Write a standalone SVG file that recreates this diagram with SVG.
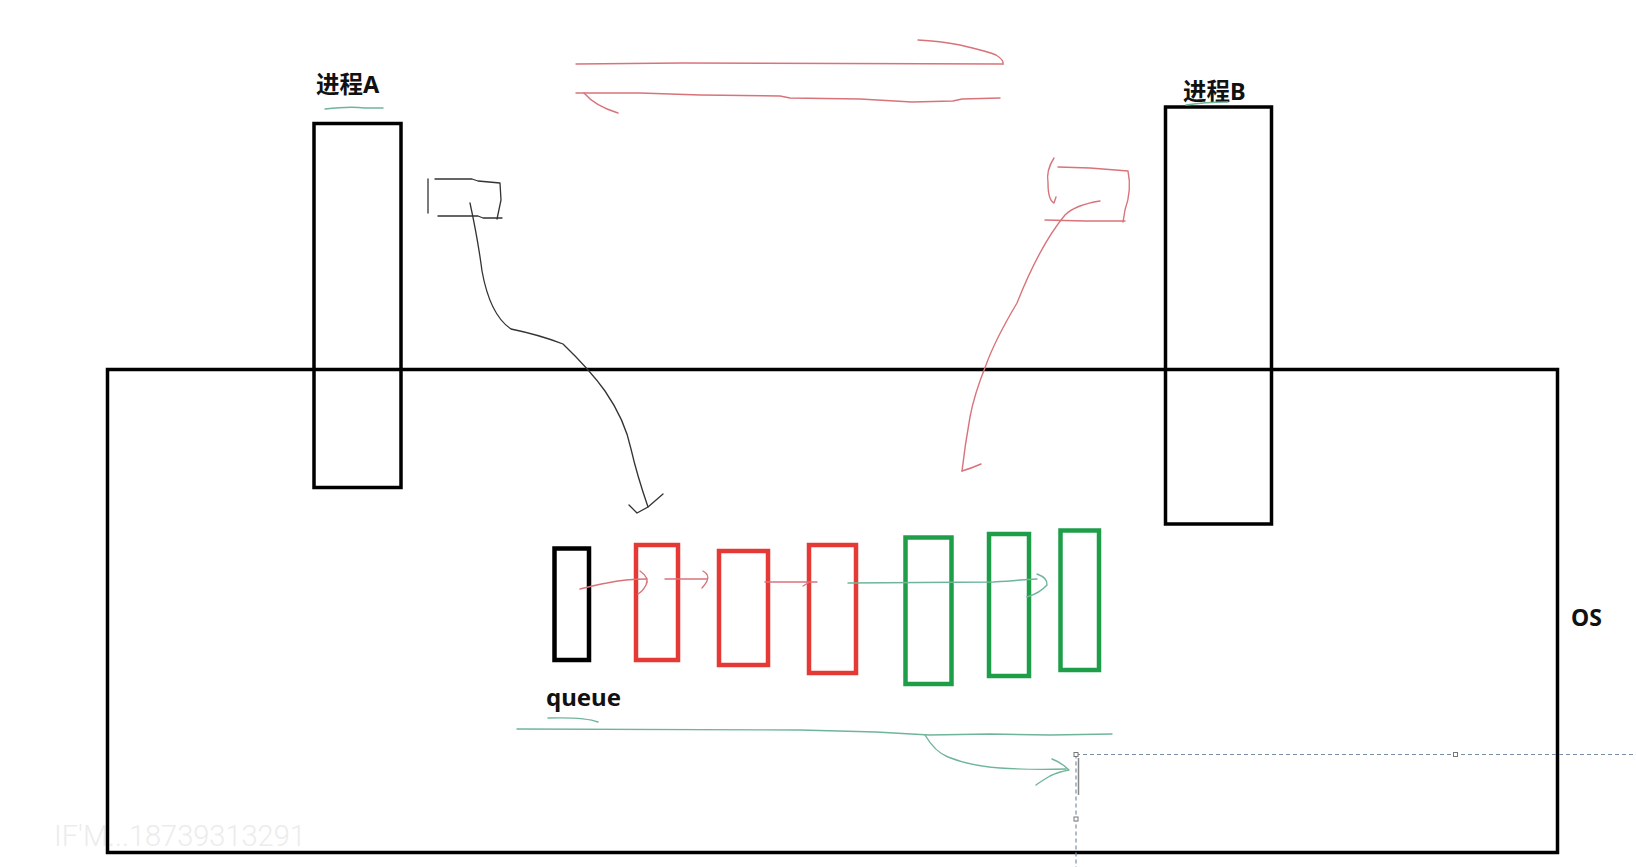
<svg xmlns="http://www.w3.org/2000/svg" width="1636" height="867" viewBox="0 0 1636 867">
<style>
.lbl{font-family:"Noto Sans","Noto Sans CJK SC",sans-serif;font-weight:bold;fill:#111;}
.box{fill:none;stroke:#000;stroke-width:3.5;}
.q{fill:none;stroke-width:4.5;}
.red{stroke:#e53935;}
.grn{stroke:#1f9e4a;}
.pen{fill:none;stroke-linecap:round;stroke-linejoin:round;}
.pr{stroke:#d9737a;stroke-width:1.4;}
.pg{stroke:#6fb59a;stroke-width:1.4;}
.pk{stroke:#333;stroke-width:1.3;}
.sel{fill:none;stroke:#7a8fa6;stroke-width:1.2;stroke-dasharray:4 3;}
.hdl{fill:#fff;stroke:#777;stroke-width:1;}
</style>
<rect width="1636" height="867" fill="#fff"/>
<text x="54" y="846" font-family="Roboto, sans-serif" font-weight="300" font-size="29" fill="#ececec">IF'M...18739313291</text>
<g id="os">
<rect class="box" x="107.5" y="369.5" width="1450" height="483" stroke-width="4"/>
<text class="lbl" x="1571" y="626" font-size="23">OS</text>
</g>
<g id="procA">
<rect class="box" x="314" y="123.5" width="87" height="364"/>
<text class="lbl" x="316" y="93" font-size="23.5">进程A</text>
<path class="pen pg" d="M325 109 Q350 106 365 108 L383 108"/>
</g>
<g id="procB">
<rect class="box" x="1165.5" y="107" width="106" height="417"/>
<text class="lbl" x="1183" y="100" font-size="23.5">进程B</text>
<path class="pen pg" d="M1186 105 Q1205 102 1228 102"/>
</g>
<g id="queue">
<rect class="q" stroke="#000" x="554.5" y="548.5" width="34.5" height="111.5"/>
<rect class="q red" x="636" y="545" width="42" height="115"/>
<rect class="q red" x="719" y="551" width="49" height="114"/>
<rect class="q red" x="809" y="545" width="47" height="128"/>
<rect class="q grn" x="905.5" y="537.5" width="46" height="146.5"/>
<rect class="q grn" x="989" y="534" width="40" height="142"/>
<rect class="q grn" x="1060.5" y="530.5" width="38.5" height="139.5"/>
<text class="lbl" x="546" y="706" font-size="24">queue</text>
<path class="pen pg" d="M548 718 Q585 717 598 722"/>
</g>
<g id="connectors">
<path class="pen pr" d="M576 64 L683 63 L1003 64"/>
<path class="pen pr" d="M918 40 Q940 41 960 45 Q990 52 996 55 Q1004 60 1003 64"/>
<path class="pen pr" d="M576 93 L640 93 L700 95 L780 96 L790 98 L860 99 L912 102 L953 101 L962 99 L1000 98"/>
<path class="pen pr" d="M584 93 Q595 106 618 113"/>
<path class="pen pk" d="M428 179 L428 213"/>
<path class="pen pk" d="M435 179 L472 179 L478 181 L500 183 L501 200 L497 219"/>
<path class="pen pk" d="M438 216 L478 216 L483 218 L502 218"/>
<path class="pen pk" d="M470 203 Q478 240 482 271 Q490 315 511 329 Q540 335 563 344 Q590 370 605 391 Q625 420 631 449 Q637 475 648 507"/>
<path class="pen pk" d="M629 505 L637 513 L648 507 L663 494"/>
<path class="pen pr" d="M1054 158 Q1046 170 1048 183 Q1048 200 1054 203 L1056 197"/>
<path class="pen pr" d="M1058 167 L1090 168 L1128 171 Q1132 190 1125 210 L1123 222"/>
<path class="pen pr" d="M1045 220 L1085 221 L1125 221"/>
<path class="pen pr" d="M1100 201 Q1075 205 1065 215 Q1040 245 1017 303 Q995 340 986 365 Q974 395 970 417 Q965 445 962 471"/>
<path class="pen pr" d="M962 471 Q972 468 981 464"/>
<path class="pen pr" d="M580 589 Q600 584 607 583 Q625 579 647 579"/>
<path class="pen pr" d="M640 571 Q650 578 646 585 Q643 591 638 594"/>
<path class="pen pr" d="M665 579 L707 579"/>
<path class="pen pr" d="M703 571 Q710 575 707 581 Q705 585 702 588"/>
<path class="pen pr" d="M765 582 L817 582"/>
<path class="pen pr" d="M803 586 L808 583"/>
<path class="pen pg" d="M848 583 L993 582 Q1010 581 1020 580 L1037 579"/>
<path class="pen pg" d="M1037 574 Q1048 578 1047 585 Q1040 593 1027 597"/>
<path class="pen pg" d="M517 729 L800 730 L876 732 L929 735 L990 734 L1050 735 L1112 734"/>
<path class="pen pg" d="M925 735 Q935 752 948 757 Q970 766 1000 768 Q1030 770 1066 769"/>
<path class="pen pg" d="M1052 759 Q1062 763 1069 770 Q1058 772 1050 776 Q1040 782 1036 785"/>
</g>
<g id="selection">
<path class="sel" d="M1076 754.5 L1636 754.5"/>
<path class="sel" d="M1076 754.5 L1076 867"/>
<path d="M1078.5 758 L1078.5 795" stroke="#888" stroke-width="1.5" fill="none"/>
<rect class="hdl" x="1074" y="752.5" width="4" height="4"/>
<rect class="hdl" x="1453.5" y="752.5" width="4" height="4"/>
<rect class="hdl" x="1074" y="817" width="4" height="4"/>
</g>
</svg>
